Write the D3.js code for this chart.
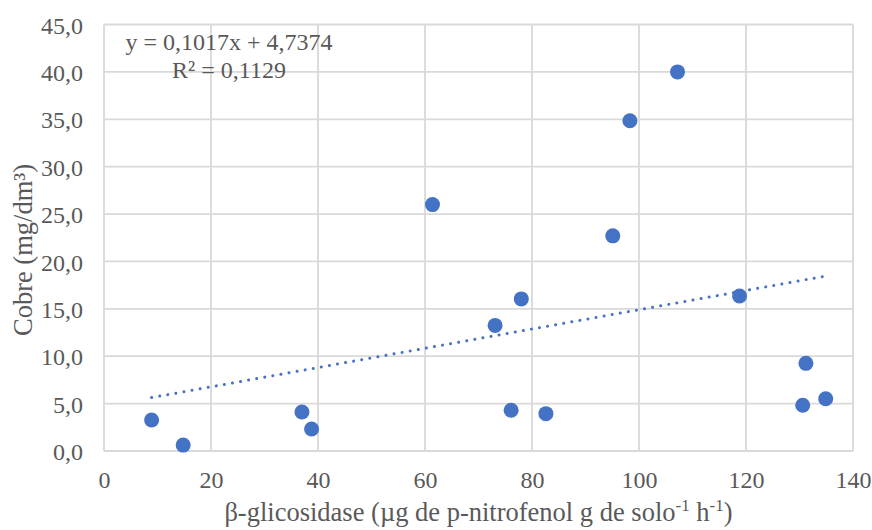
<!DOCTYPE html>
<html>
<head>
<meta charset="utf-8">
<script src="https://cdn.jsdelivr.net/npm/d3@7"></script>
<style>
  body { margin: 0; background: #fff; }
  svg text { font-family: "Liberation Serif", serif; }
</style>
</head>
<body>
<svg id="chart" width="872" height="530" font-family="Liberation Serif"></svg>
<script>
// Data.
const betaGlicosidase = [8.9, 14.8, 37.0, 38.8, 61.4, 73.1, 76.1, 78.0, 82.6, 95.1, 98.3, 107.2, 118.8, 130.6, 131.2, 134.9];
const cobre = [3.27, 0.62, 4.11, 2.32, 26.0, 13.25, 4.3, 16.05, 3.94, 22.7, 34.85, 40.0, 16.35, 4.82, 9.25, 5.52];
const xTicks = [0, 20, 40, 60, 80, 100, 120, 140];
const yTicks = [0, 5, 10, 15, 20, 25, 30, 35, 40, 45];
const trendSlope = 0.1017;
const trendIntercept = 4.7374;
const equationLines = ["y = 0,1017x + 4,7374", "R² = 0,1129"];

const FONT = "Liberation Serif";
const TEXT_COLOR = "#595959";

const svg = d3.select("#chart");
const margin = { left: 104, right: 19, top: 24.5, bottom: 79 };
const width = 872, height = 530;

const x = d3.scaleLinear().domain([0, 140]).range([margin.left, width - margin.right]);
const y = d3.scaleLinear().domain([0, 45]).range([height - margin.bottom, margin.top]);

const fmt = (d) => d3.format(".1f")(d).replace(".", ",");

// Gridlines (also serve as the plot frame).
const grid = svg.append("g").attr("class", "grid");
grid.selectAll("line.v")
  .data(xTicks)
  .join("line")
  .attr("class", "v")
  .attr("x1", (d) => x(d)).attr("x2", (d) => x(d))
  .attr("y1", y(0)).attr("y2", y(45))
  .attr("stroke", "#d9d9d9").attr("stroke-width", 1.8);
grid.selectAll("line.h")
  .data(yTicks)
  .join("line")
  .attr("class", "h")
  .attr("x1", x(0)).attr("x2", x(140))
  .attr("y1", (d) => y(d)).attr("y2", (d) => y(d))
  .attr("stroke", "#d9d9d9").attr("stroke-width", 1.8);

// Axes (labels only).
const xAxis = svg.append("g")
  .attr("transform", `translate(0,${y(0)})`)
  .call(d3.axisBottom(x).tickValues(xTicks).tickSize(0).tickPadding(37));
const yAxis = svg.append("g")
  .attr("transform", `translate(${x(0)},0)`)
  .call(d3.axisLeft(y).tickValues(yTicks).tickFormat(fmt).tickSize(0).tickPadding(21));
[xAxis, yAxis].forEach((g) => {
  g.attr("font-family", FONT).attr("font-size", 24);
  g.select(".domain").remove();
  g.selectAll("text").attr("fill", TEXT_COLOR);
});
xAxis.selectAll("text").attr("dy", "0");
yAxis.selectAll("text").attr("dy", "0.36em");

// Trendline (linear, dotted).
const xExtent = d3.extent(betaGlicosidase);
svg.append("line")
  .attr("x1", x(xExtent[0])).attr("y1", y(trendSlope * xExtent[0] + trendIntercept))
  .attr("x2", x(xExtent[1])).attr("y2", y(trendSlope * xExtent[1] + trendIntercept))
  .attr("stroke", "#4472c4")
  .attr("stroke-width", 3)
  .attr("stroke-linecap", "round")
  .attr("stroke-dasharray", "0.01 8.2");

// Points.
svg.append("g")
  .selectAll("circle")
  .data(betaGlicosidase.map((d, i) => [d, cobre[i]]))
  .join("circle")
  .attr("cx", (d) => x(d[0]))
  .attr("cy", (d) => y(d[1]))
  .attr("r", 7.5)
  .attr("fill", "#4472c4");

// Trendline equation.
svg.append("text")
  .attr("x", 229).attr("y", 50)
  .attr("text-anchor", "middle")
  .attr("font-size", 24)
  .attr("fill", TEXT_COLOR)
  .selectAll("tspan")
  .data(equationLines)
  .join("tspan")
  .attr("x", 229)
  .attr("dy", (d, i) => (i === 0 ? 0 : 28))
  .text((d) => d);

// Axis titles.
const xTitle = svg.append("text")
  .attr("x", x(70)).attr("y", 521)
  .attr("text-anchor", "middle")
  .attr("font-size", 26.5)
  .attr("fill", TEXT_COLOR);
xTitle.append("tspan").text("β-glicosidase (µg de p-nitrofenol g de solo");
xTitle.append("tspan").attr("dy", -10).attr("font-size", 17).text("-1");
xTitle.append("tspan").attr("dy", 10).text(" h");
xTitle.append("tspan").attr("dy", -10).attr("font-size", 17).text("-1");
xTitle.append("tspan").attr("dy", 10).text(")");

svg.append("text")
  .attr("transform", "translate(32,250) rotate(-90)")
  .attr("text-anchor", "middle")
  .attr("font-size", 26.5)
  .attr("fill", TEXT_COLOR)
  .text("Cobre (mg/dm³)");
</script>
</body>
</html>
